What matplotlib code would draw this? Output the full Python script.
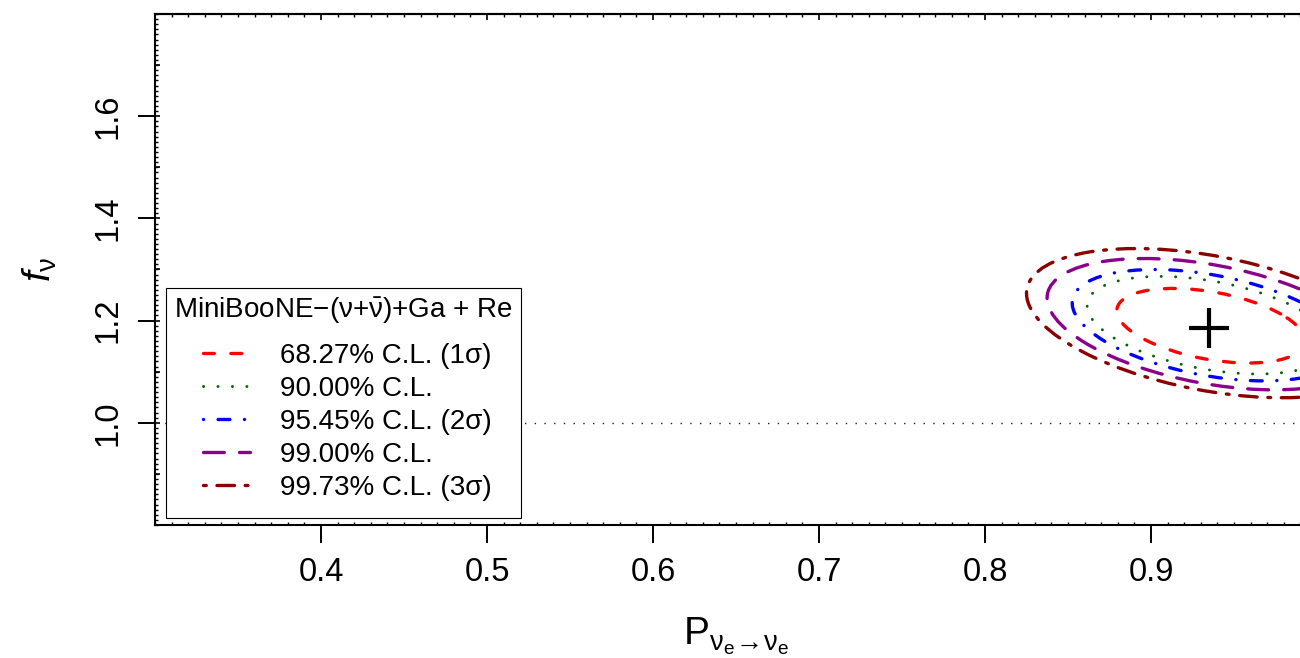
import numpy as np
import matplotlib
matplotlib.use('Agg')
import matplotlib.pyplot as plt
from matplotlib.patches import Ellipse
from matplotlib.lines import Line2D
from matplotlib.legend_handler import HandlerLine2D
from matplotlib.ticker import MultipleLocator, NullLocator
from matplotlib.offsetbox import VPacker, DrawingArea

plt.rcParams['font.family'] = ['Liberation Sans', 'DejaVu Sans']
plt.rcParams['mathtext.fontset'] = 'custom'
plt.rcParams['mathtext.rm'] = 'Liberation Sans'
plt.rcParams['mathtext.it'] = 'Liberation Sans:italic'
plt.rcParams['mathtext.bf'] = 'Liberation Sans:bold'
plt.rcParams['lines.scale_dashes'] = False

# ---------------- data ----------------
cl_labels = ['68.27% C.L. (1σ)', '90.00% C.L.', '95.45% C.L. (2σ)',
             '99.00% C.L.', '99.73% C.L. (3σ)']
cl_x_center = [0.936, 0.935, 0.935, 0.935, 0.935]
cl_y_center = [1.190, 1.191, 1.191, 1.193, 1.195]
cl_x_half = [0.0566, 0.0735, 0.0825, 0.0976, 0.110]
cl_y_half = [0.073, 0.0955, 0.109, 0.1285, 0.146]
cl_rho = [-0.40, -0.40, -0.40, -0.40, -0.40]

best_fit_x = [0.9349]
best_fit_y = [1.185]

reference_f = 1.0

x_ticks = [0.4, 0.5, 0.6, 0.7, 0.8, 0.9]
x_tick_labels = ['0.4', '0.5', '0.6', '0.7', '0.8', '0.9']
y_ticks = [1.0, 1.2, 1.4, 1.6]
y_tick_labels = ['1.0', '1.2', '1.4', '1.6']

legend_title = 'MiniBooNE−(ν+$\\bar{\\mathrm{\\nu}}$)+Ga + Re'

# ---------------- styles ----------------
cl_colors = ['#FF0000', '#006400', '#0000FF', '#8B008B', '#8B0000']
cl_lw = [2.4, 2.1, 2.4, 2.4, 2.4]
cl_dashes = [(0, (7.8, 11.9)),
             (0, (0.1, 10.3)),
             (0, (0.1, 10.4, 8.5, 10.5)),
             (0, (15.0, 10.9)),
             (0, (2.0, 7.7, 12.6, 7.7))]

W, H = 1300, 658
fig = plt.figure(figsize=(W / 100, H / 100), dpi=100)
ax = fig.add_axes([155 / W, 133 / H, 1162 / W, 511 / H])
ax.set_xlim(0.3, 1.0)
ax.set_ylim(0.8, 1.8)

# reference line
ax.axhline(reference_f, color='#222222', lw=1.0, ls=(0, (1.0, 6.0)), zorder=1)

# contours
for cx, cy, a, b, r, c, lw, d in zip(cl_x_center, cl_y_center, cl_x_half,
                                     cl_y_half, cl_rho, cl_colors, cl_lw, cl_dashes):
    S = np.array([[a * a, r * a * b], [r * a * b, b * b]])
    vals, vecs = np.linalg.eigh(S)
    ang = np.degrees(np.arctan2(vecs[1, 1], vecs[0, 1]))
    e = Ellipse((cx, cy), 2 * np.sqrt(vals[1]), 2 * np.sqrt(vals[0]), angle=ang,
                fill=False, edgecolor=c, lw=lw, linestyle=d, capstyle='round',
                zorder=3)
    ax.add_patch(e)

ax.plot(best_fit_x, best_fit_y, marker='+', ms=29, mew=3.0, color='black',
        ls='none', zorder=4)

# axes styling
for s in ['left', 'bottom', 'top']:
    ax.spines[s].set_linewidth(1.5)
ax.spines['right'].set_visible(False)

ax.set_xticks(x_ticks, labels=x_tick_labels)
ax.set_yticks(y_ticks, labels=y_tick_labels)
ax.xaxis.set_minor_locator(MultipleLocator(0.01))
ax.yaxis.set_minor_locator(MultipleLocator(0.01))
ax.tick_params(axis='x', which='major', direction='out', length=13, width=1.4,
               labelsize=23.5, pad=10, top=False)
ax.tick_params(axis='x', which='minor', direction='in', length=2.5, width=1.0, top=False)
ax.tick_params(axis='y', which='major', direction='out', length=12.5, width=1.4,
               labelsize=23.5, pad=10, right=False)
ax.tick_params(axis='y', which='minor', direction='in', length=2.5, width=1.0, right=False)
plt.setp(ax.get_yticklabels(), rotation=90, va='center')

secx = ax.secondary_xaxis('top')
secx.xaxis.set_major_locator(MultipleLocator(0.1))
secx.xaxis.set_minor_locator(MultipleLocator(0.01))
secx.tick_params(which='major', direction='in', length=4, width=1.2, labeltop=False)
secx.tick_params(which='minor', direction='in', length=2.5, width=1.0)
secx.spines['top'].set_linewidth(1.5)

secy = ax.secondary_yaxis('left')
secy.yaxis.set_major_locator(MultipleLocator(0.1))
secy.yaxis.set_minor_locator(NullLocator())
secy.tick_params(which='major', direction='in', length=3.8, width=1.2, labelleft=False)
secy.spines['left'].set_visible(False)

ax.set_xlabel(r'$\mathrm{P}_{\mathrm{\nu}_{\mathrm{e}}\!\rightarrow\!\mathrm{\nu}_{\mathrm{e}}}$',
              fontsize=28)
ax.xaxis.label.set_va('center')
ax.xaxis.set_label_coords(0.5, -0.217)
ax.set_ylabel(r'$f_{\mathrm{\nu}}$', fontsize=28)
ax.yaxis.label.set_va('center')
ax.yaxis.set_label_coords(-0.099, 0.5)


class IndentHandler(HandlerLine2D):
    def __init__(self, frac, **kw):
        super().__init__(**kw)
        self.frac = frac

    def create_artists(self, legend, orig_handle, xdescent, ydescent, width,
                       height, fontsize, trans):
        arts = super().create_artists(legend, orig_handle, xdescent, ydescent,
                                      width, height, fontsize, trans)
        for art in arts:
            xd = np.asarray(art.get_xdata(), float)
            if xd.size >= 2:
                art.set_xdata(np.linspace(xd[0] + (xd[-1] - xd[0]) * self.frac,
                                          xd[-1], xd.size))
        return arts


handles = [Line2D([], [], color=c, lw=lw, linestyle=d, dash_capstyle='round')
           for c, lw, d in zip(cl_colors, cl_lw, cl_dashes)]
leg = ax.legend(handles, cl_labels, title=legend_title, loc='lower left',
                bbox_to_anchor=(11 / 1162, 7 / 511), borderaxespad=0,
                fontsize=20, title_fontsize=20, frameon=True, fancybox=False,
                edgecolor='black', framealpha=1, handlelength=2.74,
                handletextpad=1.08, labelspacing=0.25, borderpad=0.3,
                alignment='left',
                handler_map={Line2D: IndentHandler(0.38)})
leg.get_frame().set_linewidth(0.8)
leg.set_zorder(10)
leg._legend_box.sep = 12
# extra blank space below the last entry
_inner = VPacker(children=[leg._legend_box._children[1], DrawingArea(1, 6.5)],
                 pad=0, sep=0, align='left')
leg._legend_box._children[1] = _inner

fig.savefig('out.png', dpi=100)
